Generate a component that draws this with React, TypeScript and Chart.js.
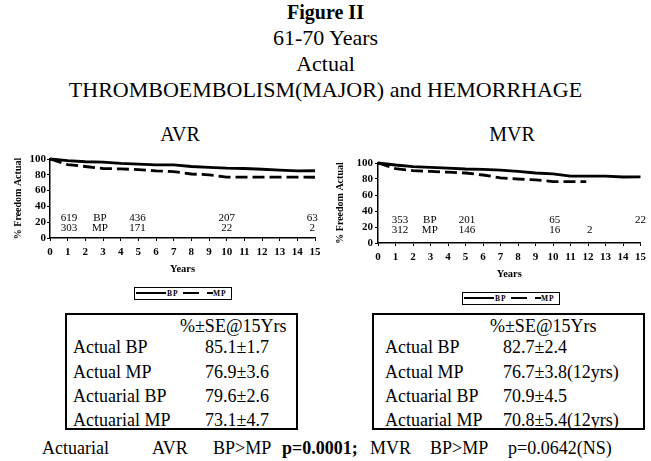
import React, { useEffect, useRef } from "react";
import { Chart, registerables } from "chart.js";

Chart.register(...registerables);

const FONT = '"Liberation Serif", "Times New Roman", serif';

// ---- data ----
const years = [0, 1, 2, 3, 4, 5, 6, 7, 8, 9, 10, 11, 12, 13, 14, 15];
const avrBP = [100, 98, 96.5, 96, 94.5, 93.5, 92.5, 92.5, 90.5, 89.5, 88.5, 88, 87, 86, 85, 85.1];
const avrMP = [100, 93, 90.5, 88, 87.5, 86.5, 85, 84, 81, 80, 77, 77, 77, 77, 77, 76.9];
const mvrBP = [100, 97.5, 95.5, 94.5, 93.5, 92.5, 92, 91, 89.5, 87.5, 86.5, 83.5, 83.5, 83.5, 82.5, 82.7];
const mvrMPYears = [0, 1, 2, 3, 4, 5, 6, 7, 8, 9, 10, 11, 11.9];
const mvrMP = [100, 93, 90.5, 89.5, 88.5, 87.5, 85, 81.5, 80, 79, 76.7, 76.7, 76.7];

const avrCountYears = [1.07, 2.83, 4.95, 10, 14.85];
const avrBpCounts = ["619", "BP", "436", "207", "63"];
const avrMpCounts = ["303", "MP", "171", "22", "2"];
const avrCountLevels = [25, 12];

const mvrCountYears = [1.26, 2.96, 5.09, 10.1, 12.1, 15];
const mvrBpCounts = ["353", "BP", "201", "65", "", "22"];
const mvrMpCounts = ["312", "MP", "146", "16", "2", ""];
const mvrCountLevels = [29, 16];

const yTicks = [0, 20, 40, 60, 80, 100];

const titleLines = ["61-70 Years", "Actual", "THROMBOEMBOLISM(MAJOR) and HEMORRHAGE"];
const tableHeader = "%±SE@15Yrs";
const tableRowLabels = ["Actual BP", "Actual MP", "Actuarial BP", "Actuarial MP"];
const avrTableValues = ["85.1±1.7", "76.9±3.6", "79.6±2.6", "73.1±4.7"];
const mvrTableValues = ["82.7±2.4", "76.7±3.8(12yrs)", "70.9±4.5", "70.8±5.4(12yrs)"];

function makeCountsPlugin(xs: number[], rows: string[][], levels: number[]) {
  return {
    id: "counts",
    afterDatasetsDraw(chart: any) {
      const { ctx, scales } = chart;
      ctx.save();
      ctx.font = `11px ${FONT}`;
      ctx.fillStyle = "#000";
      ctx.textAlign = "center";
      ctx.textBaseline = "middle";
      rows.forEach((row, r) => {
        row.forEach((t, i) => {
          if (!t) return;
          ctx.fillText(t, scales.x.getPixelForValue(xs[i]), scales.y.getPixelForValue(levels[r]));
        });
      });
      ctx.restore();
    },
  };
}

type CP = {
  bp: number[];
  bpX: number[];
  mp: number[];
  mpX: number[];
  countX: number[];
  counts: string[][];
  levels: number[];
  yWidth: number;
  padRight: number;
  titlePad: number;
  yTickPad: number;
  width: number;
  height: number;
};

function SurvivalChart(p: CP) {
  const ref = useRef<HTMLCanvasElement | null>(null);
  useEffect(() => {
    if (!ref.current) return;
    const chart = new Chart(ref.current, {
      type: "line",
      data: {
        datasets: [
          {
            label: "BP",
            data: p.bpX.map((x, i) => ({ x, y: p.bp[i] })),
            borderColor: "#000",
            borderWidth: 2.8,
            pointRadius: 0,
            tension: 0,
            clip: 6,
          } as any,
          {
            label: "MP",
            data: p.mpX.map((x, i) => ({ x, y: p.mp[i] })),
            borderColor: "#000",
            borderWidth: 2.8,
            borderDash: [12, 5],
            pointRadius: 0,
            tension: 0,
            clip: 6,
          } as any,
        ],
      },
      options: {
        animation: false,
        responsive: false,
        layout: { padding: { top: 14, right: p.padRight, left: 0, bottom: 0 } },
        plugins: { legend: { display: false }, tooltip: { enabled: false } },
        scales: {
          x: {
            type: "linear",
            min: 0,
            max: 15,
            ticks: {
              stepSize: 1,
              color: "#000",
              font: { family: FONT, size: 11, weight: "bold" },
              padding: 5,
              maxRotation: 0,
              autoSkip: false,
            },
            grid: { drawOnChartArea: false, drawTicks: true, tickLength: 3, color: "#000", lineWidth: 1 },
            border: { display: true, color: "#000", width: 1.5 },
            title: {
              display: true,
              text: "Years",
              color: "#000",
              font: { family: FONT, size: 10.5, weight: "bold" },
              padding: { top: 0, bottom: 4 },
            },
            afterFit: (s: any) => {
              s.height = 42;
            },
          },
          y: {
            min: 0,
            max: 100,
            afterBuildTicks: (s: any) => {
              s.ticks = yTicks.map((v) => ({ value: v }));
            },
            ticks: {
              color: "#000",
              font: { family: FONT, size: 11, weight: "bold" },
              padding: p.yTickPad,
              autoSkip: false,
            },
            grid: { drawOnChartArea: false, drawTicks: true, tickLength: 3, color: "#000", lineWidth: 1 },
            border: { display: true, color: "#000", width: 1.5 },
            title: {
              display: true,
              text: "% Freedom Actual",
              color: "#000",
              font: { family: FONT, size: 10, weight: "bold" },
              padding: { top: p.titlePad, bottom: 0 },
            },
            afterFit: (s: any) => {
              s.width = p.yWidth;
            },
          },
        },
      } as any,
      plugins: [makeCountsPlugin(p.countX, p.counts, p.levels)],
    });
    return () => chart.destroy();
  }, []);
  return <canvas ref={ref} width={p.width} height={p.height} style={{ width: p.width, height: p.height, display: "block" }} />;
}

function Legend({ left, top }: { left: number; top: number }) {
  const txt: React.CSSProperties = {
    position: "absolute",
    top: 1,
    fontFamily: FONT,
    fontSize: 7.5,
    fontWeight: "bold",
    lineHeight: "9px",
    letterSpacing: 1,
  };
  const line = (l: number, w: number): React.CSSProperties => ({
    position: "absolute",
    left: l,
    top: 4,
    width: w,
    height: 0,
    borderTop: "2.5px solid #000",
  });
  return (
    <div
      style={{
        position: "absolute",
        left,
        top,
        width: 98,
        height: 13,
        border: "1px solid #000",
        boxSizing: "border-box",
        background: "#fff",
      }}
    >
      <div style={line(1, 30)} />
      <div style={{ ...txt, left: 32 }}>BP</div>
      <div style={line(48, 16)} />
      <div style={line(72, 6)} />
      <div style={{ ...txt, left: 78 }}>MP</div>
    </div>
  );
}

function Table({ left, top, width, height, labelX, valueX, headerX, values }: any) {
  const t = (x: number, cy: number, s: string): React.ReactNode => (
    <div
      key={s + cy}
      style={{
        position: "absolute",
        left: x - left,
        top: cy - 9 - top,
        fontFamily: FONT,
        fontSize: 18,
        lineHeight: "18px",
        whiteSpace: "nowrap",
      }}
    >
      {s}
    </div>
  );
  const rowsY = [347, 372, 396, 420];
  return (
    <div
      style={{
        position: "absolute",
        left,
        top,
        width,
        height,
        border: "2px solid #000",
        boxSizing: "border-box",
      }}
    >
      <div style={{ position: "absolute", left: -2, top: -2 }}>
        {t(headerX, 326, tableHeader)}
        {tableRowLabels.map((r, i) => t(labelX, rowsY[i], r))}
        {(values as string[]).map((v, i) => t(valueX, rowsY[i], v))}
      </div>
    </div>
  );
}

export default function App() {
  const centerText = (cy: number, size: number, s: string, bold = false, cx = 325.5): React.ReactNode => (
    <div
      key={s}
      style={{
        position: "absolute",
        left: cx - 300,
        width: 600,
        top: cy - size / 2,
        textAlign: "center",
        fontFamily: FONT,
        fontSize: size,
        lineHeight: `${size}px`,
        fontWeight: bold ? "bold" : "normal",
        whiteSpace: "nowrap",
      }}
    >
      {s}
    </div>
  );
  const bottomTokens: [number, string, boolean][] = [
    [42, "Actuarial", false],
    [152, "AVR", false],
    [213, "BP>MP", false],
    [282, "p=0.0001;", true],
    [370, "MVR", false],
    [430, "BP>MP", false],
    [508, "p=0.0642(NS)", false],
  ];
  return (
    <div style={{ position: "absolute", left: 0, top: 0, width: 651, height: 461, background: "#fff", overflow: "hidden" }}>
      {centerText(12, 20, "Figure II", true)}
      {titleLines.map((s, i) => centerText(38 + i * 26, 22, s))}
      {centerText(134, 20, "AVR", false, 180)}
      {centerText(134, 20, "MVR", false, 512)}

      <div style={{ position: "absolute", left: 0, top: 145 }}>
        <SurvivalChart
          bp={avrBP}
          bpX={years}
          mp={avrMP}
          mpX={years}
          countX={avrCountYears}
          counts={[avrBpCounts, avrMpCounts]}
          levels={avrCountLevels}
          yWidth={50}
          padRight={15}
          titlePad={12}
          yTickPad={1}
          width={330}
          height={135}
        />
      </div>
      <div style={{ position: "absolute", left: 330, top: 149 }}>
        <SurvivalChart
          bp={mvrBP}
          bpX={years}
          mp={mvrMP}
          mpX={mvrMPYears}
          countX={mvrCountYears}
          counts={[mvrBpCounts, mvrMpCounts]}
          levels={mvrCountLevels}
          yWidth={48}
          padRight={8}
          titlePad={4}
          yTickPad={2}
          width={321}
          height={136}
        />
      </div>

      <Legend left={134} top={287} />
      <Legend left={462} top={292} />

      <Table left={65} top={313} width={233} height={117} labelX={73} valueX={205} headerX={180} values={avrTableValues} />
      <Table left={372} top={313} width={273} height={117} labelX={385} valueX={503} headerX={490} values={mvrTableValues} />

      {bottomTokens.map(([x, s, b]) => (
        <div
          key={x}
          style={{
            position: "absolute",
            left: x,
            top: 448 - 9,
            fontFamily: FONT,
            fontSize: 18,
            lineHeight: "18px",
            fontWeight: b ? "bold" : "normal",
            whiteSpace: "nowrap",
          }}
        >
          {s}
        </div>
      ))}
    </div>
  );
}
